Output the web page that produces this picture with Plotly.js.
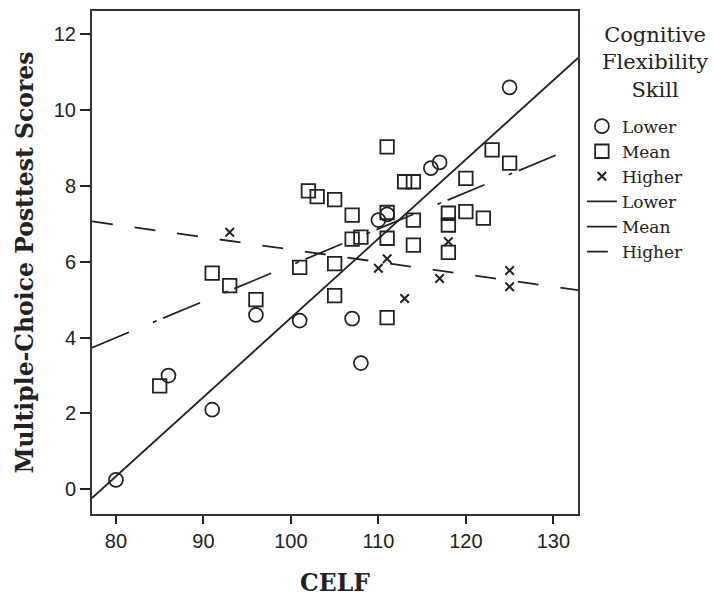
<!DOCTYPE html>
<html>
<head>
<meta charset="utf-8">
<script src="https://cdn.plot.ly/plotly-3.0.1.min.js"></script>
<style>html,body{margin:0;padding:0;background:#fff;}#chart{width:714px;height:598px;}</style>
</head>
<body>
<div id="chart"></div>
<script>
// CELF (x) and Multiple-Choice Posttest Scores (y) by Cognitive Flexibility Skill group
const lowerX  = [80, 86, 91, 96, 101, 107, 108, 110, 111, 116, 117, 125];
const lowerY  = [0.25, 3.0, 2.1, 4.6, 4.45, 4.5, 3.33, 7.1, 7.25, 8.47, 8.62, 10.6];

const meanX   = [85, 91, 93, 96, 101, 102, 103, 105, 105, 105, 107, 107, 108, 111, 111, 111, 111, 113, 114, 114, 114, 118, 118, 118, 120, 120, 122, 123, 125];
const meanY   = [2.73, 5.7, 5.37, 5.0, 5.85, 7.87, 7.72, 7.64, 5.95, 5.11, 7.23, 6.6, 6.65, 9.03, 7.3, 6.62, 4.53, 8.11, 8.11, 7.1, 6.44, 7.28, 6.97, 6.25, 8.2, 7.32, 7.15, 8.95, 8.6];

const higherX = [93, 110, 111, 113, 117, 118, 125, 125];
const higherY = [6.78, 5.83, 6.08, 5.03, 5.56, 6.53, 5.77, 5.34];

const groupNames = ["Lower", "Mean", "Higher"];
const legendTitle = "Cognitive<br>Flexibility<br>Skill";
const xTitle = "CELF";
const yTitle = "Multiple-Choice Posttest Scores";
const xTicks = [80, 90, 100, 110, 120, 130];
const yTicks = [0, 2, 4, 6, 8, 10, 12];

const xRange = [77.26, 132.82];
const yRange = [-0.651, 12.613];

function fitLine(xs, ys) {
  const n = xs.length;
  const mx = xs.reduce((a, b) => a + b, 0) / n;
  const my = ys.reduce((a, b) => a + b, 0) / n;
  let sxy = 0, sxx = 0;
  for (let i = 0; i < n; i++) { sxy += (xs[i] - mx) * (ys[i] - my); sxx += (xs[i] - mx) ** 2; }
  const b = sxy / sxx, a = my - b * mx;
  return { x: xRange.slice(), y: xRange.map(v => a + b * v) };
}

const ink = "#222";
const fLower = fitLine(lowerX, lowerY);
const fMean = fitLine(meanX, meanY);
const fHigher = fitLine(higherX, higherY);

const data = [
  { x: lowerX, y: lowerY, mode: "markers", type: "scatter", name: groupNames[0],
    marker: { symbol: "circle-open", size: 14, color: ink, line: { color: ink, width: 1.7 } } },
  { x: meanX, y: meanY, mode: "markers", type: "scatter", name: groupNames[1],
    marker: { symbol: "square-open", size: 13.5, color: ink, line: { color: ink, width: 1.8 } } },
  { x: higherX, y: higherY, mode: "markers", type: "scatter", name: groupNames[2],
    marker: { symbol: "x-thin-open", size: 8.5, color: ink, line: { color: ink, width: 2 } } },
  { x: fLower.x, y: fLower.y, mode: "lines", type: "scatter", name: groupNames[0],
    line: { color: ink, width: 1.8, dash: "solid" } },
  { x: fMean.x, y: fMean.y, mode: "lines", type: "scatter", name: groupNames[1],
    line: { color: ink, width: 1.7, dash: "40px,26px,4px,7px" } },
  { x: fHigher.x, y: fHigher.y, mode: "lines", type: "scatter", name: groupNames[2],
    line: { color: ink, width: 1.8, dash: "21px,22px" } }
];

const tickFont = { family: "Liberation Sans, Arial, sans-serif", size: 20, color: ink };
const titleFont = { family: "DejaVu Serif, serif", size: 23.5, color: ink, weight: "bold" };

const layout = {
  width: 714, height: 598,
  margin: { l: 92, r: 136, t: 11, b: 84 },
  paper_bgcolor: "#fff", plot_bgcolor: "#fff",
  showlegend: true,
  font: { family: "DejaVu Serif, serif", color: ink },
  xaxis: {
    range: xRange, tickvals: xTicks, ticktext: xTicks.map(String),
    showgrid: false, zeroline: false,
    showline: true, mirror: true, linecolor: "#333", linewidth: 2,
    ticks: "outside", ticklen: 8, tickwidth: 2, tickcolor: ink,
    tickfont: tickFont,
    title: { text: xTitle, font: titleFont, standoff: 24 }
  },
  yaxis: {
    range: yRange, tickvals: yTicks, ticktext: yTicks.map(String),
    showgrid: false, zeroline: false,
    showline: true, mirror: true, linecolor: "#333", linewidth: 2,
    ticks: "outside", ticklen: 10, tickwidth: 2, tickcolor: ink,
    tickfont: tickFont,
    title: { text: yTitle, font: titleFont, standoff: 14 }
  },
  legend: {
    x: 1.008, xanchor: "left", y: 0.806, yanchor: "top",
    bgcolor: "rgba(0,0,0,0)", borderwidth: 0,
    font: { family: "DejaVu Serif, serif", size: 17, color: ink },
    itemwidth: 30, tracegroupgap: 0
  },
  annotations: [{
    text: legendTitle, xref: "paper", yref: "paper",
    x: 1.1584, xanchor: "center", y: 0.98, yanchor: "top",
    align: "center", showarrow: false,
    font: { family: "DejaVu Serif, serif", size: 21, color: ink }
  }]
};

Plotly.newPlot("chart", data, layout, { displayModeBar: false, staticPlot: true });
</script>
</body>
</html>
